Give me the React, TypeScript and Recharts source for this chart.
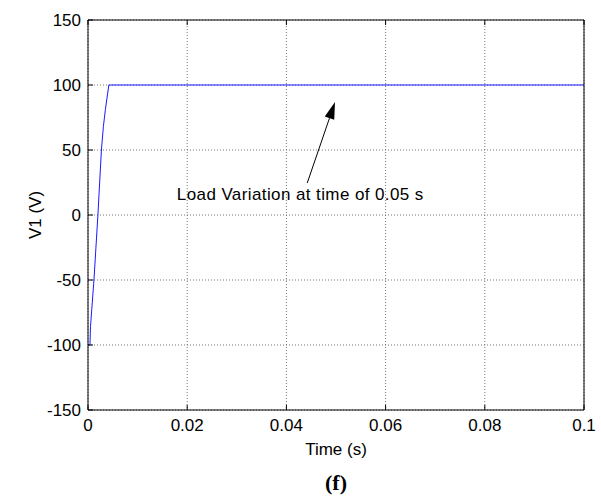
import React from 'react';
import { LineChart, Line, XAxis, YAxis, CartesianGrid, ReferenceLine, ReferenceDot, Label } from 'recharts';

// V1 rises in small steps from -100 V to 100 V in the first ~4 ms, then holds
const timeS = [0, 0.0004, 0.0005, 0.0012, 0.002, 0.0027, 0.0031, 0.0035, 0.0042, 0.1];
const v1Volts = [-100, -100, -86, -50, 0, 50, 68, 81, 100, 100];

const xTicks = [0, 0.02, 0.04, 0.06, 0.08, 0.1];
const yTicks = [-150, -100, -50, 0, 50, 100, 150];

const noteText = 'Load Variation at time of 0.05 s';
const noteAt = { t: 0.0428, v: 15.4 };
const arrowFrom = { t: 0.0442, v: 24.6 };
const arrowTo = { t: 0.0498, v: 86.9 };

const data = timeS.map((t, i) => ({ t, v: v1Volts[i] }));

const FONT = '"Liberation Sans", Arial, sans-serif';
const FS = 17;

const LeftTick = (p: any) => (
  <g>
    <line x1={p.x} y1={p.y} x2={p.x + 5} y2={p.y} stroke="#000" />
    <text x={p.x - 7} y={p.y} dy={6} textAnchor="end" fontSize={FS} fontFamily={FONT} fill="#000">
      {p.payload.value}
    </text>
  </g>
);

const RightTick = (p: any) => <line x1={p.x} y1={p.y} x2={p.x - 5} y2={p.y} stroke="#000" />;

const BottomTick = (p: any) => (
  <g>
    <line x1={p.x} y1={p.y} x2={p.x} y2={p.y - 5} stroke="#000" />
    <text x={p.x} y={p.y + 21} textAnchor="middle" fontSize={FS} fontFamily={FONT} fill="#000">
      {String(p.payload.value)}
    </text>
  </g>
);

const TopTick = (p: any) => <line x1={p.x} y1={p.y} x2={p.x} y2={p.y + 5} stroke="#000" />;

const XTitle = (p: any) => {
  const vb = p.viewBox;
  const cx = vb.x + vb.width / 2;
  return (
    <g>
      <text x={cx} y={vb.y + 45} textAnchor="middle" fontSize={FS} fontFamily={FONT} fill="#000">
        Time (s)
      </text>
      <text x={cx} y={vb.y + 80} textAnchor="middle" fontSize={22} fontWeight="bold" fontFamily='"Liberation Serif", "Times New Roman", serif' fill="#000">
        (f)
      </text>
    </g>
  );
};

const YTitle = (p: any) => {
  const vb = p.viewBox;
  const cx = vb.x + 35;
  const cy = vb.y + vb.height / 2;
  return (
    <text x={cx} y={cy} transform={`rotate(-90 ${cx} ${cy})`} textAnchor="middle" dominantBaseline="central" fontSize={FS} fontFamily={FONT} fill="#000">
      V1 (V)
    </text>
  );
};

const Arrow = (p: any) => {
  const { x1, y1, x2, y2 } = p;
  const ang = Math.atan2(y2 - y1, x2 - x1);
  const len = 17;
  const half = 5;
  const bx = x2 - len * Math.cos(ang);
  const by = y2 - len * Math.sin(ang);
  const nx = -Math.sin(ang) * half;
  const ny = Math.cos(ang) * half;
  return (
    <g>
      <line x1={x1} y1={y1} x2={bx} y2={by} stroke="#000" strokeWidth={1} />
      <polygon points={`${x2},${y2} ${bx + nx},${by + ny} ${bx - nx},${by - ny}`} fill="#000" />
    </g>
  );
};

const NoteText = (p: any) => (
  <text x={p.cx} y={p.cy} textAnchor="middle" dominantBaseline="central" fontSize={FS} letterSpacing={0.4} fontFamily={FONT} fill="#000">
    {noteText}
  </text>
);

export default function App() {
  return (
    <div style={{ position: 'absolute', left: 0, top: 0, width: 601, height: 502, background: '#fff' }}>
      <LineChart width={601} height={502} data={data} margin={{ top: 0, right: 0, bottom: 0, left: 0 }}>
        <CartesianGrid stroke="#777" strokeDasharray="1 2" />
        <XAxis
          dataKey="t"
          type="number"
          domain={[0, 0.1]}
          ticks={xTicks}
          interval={0}
          height={92}
          tickSize={0}
          tickMargin={0}
          tickLine={false}
          axisLine={{ stroke: '#000' }}
          tick={BottomTick}
        >
          <Label content={XTitle} />
        </XAxis>
        <XAxis
          xAxisId="top"
          orientation="top"
          dataKey="t"
          type="number"
          domain={[0, 0.1]}
          ticks={xTicks}
          interval={0}
          height={20}
          tickSize={0}
          tickMargin={0}
          tickLine={false}
          axisLine={{ stroke: '#000' }}
          tick={TopTick}
        />
        <YAxis
          type="number"
          domain={[-150, 150]}
          ticks={yTicks}
          interval={0}
          width={88}
          tickSize={0}
          tickMargin={0}
          tickLine={false}
          axisLine={{ stroke: '#000' }}
          tick={LeftTick}
        >
          <Label content={YTitle} />
        </YAxis>
        <YAxis
          yAxisId="right"
          orientation="right"
          type="number"
          domain={[-150, 150]}
          ticks={yTicks}
          interval={0}
          width={17}
          tickSize={0}
          tickMargin={0}
          tickLine={false}
          axisLine={{ stroke: '#000' }}
          tick={RightTick}
        />
        <Line type="linear" dataKey="v" stroke="#1a1aff" strokeWidth={1} dot={false} isAnimationActive={false} />
        <ReferenceLine
          segment={[
            { x: arrowFrom.t, y: arrowFrom.v },
            { x: arrowTo.t, y: arrowTo.v },
          ]}
          shape={Arrow}
        />
        <ReferenceDot x={noteAt.t} y={noteAt.v} r={0} shape={NoteText} />
      </LineChart>
    </div>
  );
}
